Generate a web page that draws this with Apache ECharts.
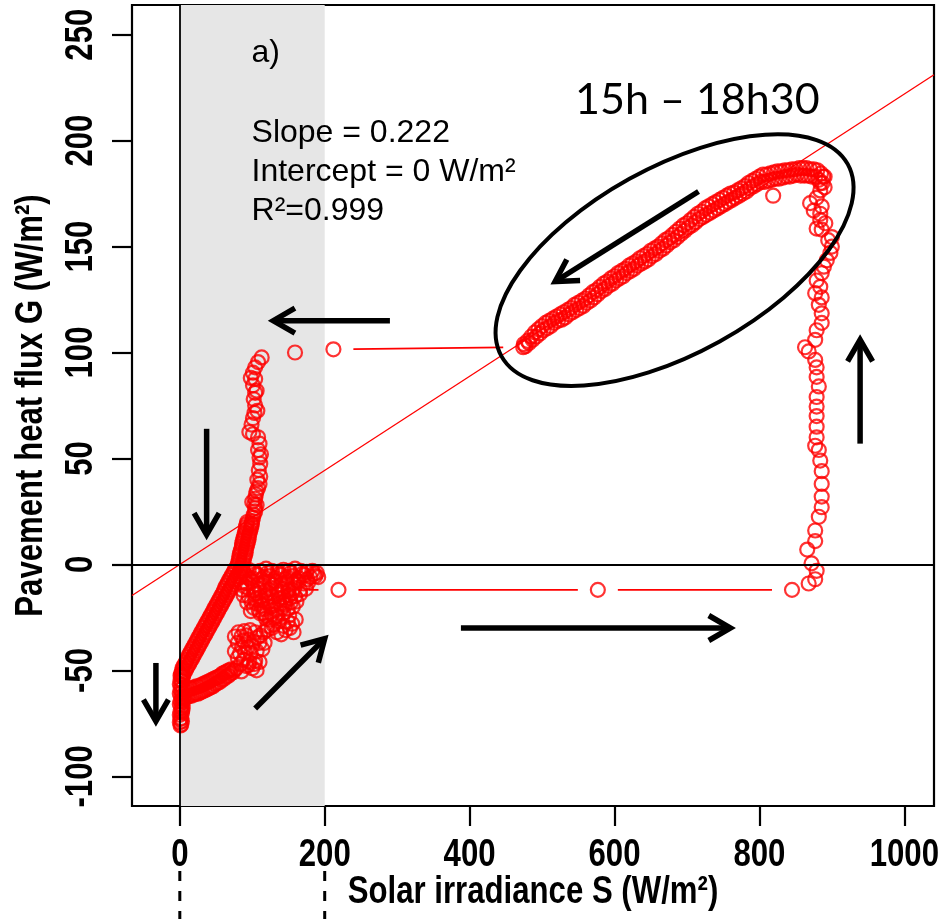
<!DOCTYPE html>
<html>
<head>
<meta charset="utf-8">
<script src="https://cdn.jsdelivr.net/npm/echarts@6/dist/echarts.min.js"></script>
<style>
  html, body { margin: 0; padding: 0; background: #ffffff; }
  #chart { width: 951px; height: 919px; }
</style>
</head>
<body>
<div id="chart"></div>
<script>
// ---- Axis ticks -------------------------------------------------------------
const xTicks = [0, 200, 400, 600, 800, 1000];
const yTicks = [-100, -50, 0, 50, 100, 150, 200, 250];
const xRange = [-66, 1041];
const yRange = [-114, 264];
const xTitle = 'Solar irradiance S (W/m\u00b2)';
const yTitle = 'Pavement heat flux G (W/m\u00b2)';

// ---- Linear fit G = slope * S + intercept ----------------------------------
const fitSlope = 0.222;
const fitIntercept = 0;
const fitText = ['Slope = 0.222', 'Intercept = 0 W/m\u00b2', 'R\u00b2=0.999'];
const panelLabel = 'a)';
const periodLabel = '15h \u2013 18h30';

// Shaded irradiance band (W/m²)
const shadeBand = [0, 200];

// ---- Measured pairs [S (W/m²), G (W/m²)] over the day, in time order --------
const nightDescent = [
  [2,-52],[4,-53],[1,-54.5],[3,-55],[0,-56.5],[2,-57],[4,-58.5],[1,-59],[3,-60.5],[0,-61],
  [2,-62.5],[4,-63],[1,-64.5],[3,-65],[0,-66],[2,-67.5],[4,-68],[1,-69.5],[3,-70],[0,-71],
  [2,-72.5],[1,-73],[3,-74],[0,-74.5],[2,-75.5],[1,-76]
];
const morningBranch = [
  [3,-69],[4,-66.5],[5,-64],[7,-62.5],[8,-59.5],[10,-62.5],[11,-59],[13,-62],[14,-58.5],[16,-62],
  [17,-58.5],[19,-61.5],[20,-58],[22,-61],[23,-57.5],[25,-61],[26,-57.5],[28,-60.5],[29,-57],[31,-60],
  [32,-56.5],[34,-59.5],[35,-56],[37,-59],[38,-55.5],[40,-58.5],[41,-55],[43,-58],[44,-54.5],[46,-57.5],
  [47,-54],[49,-56.5],[50,-53.5],[52,-56],[53,-53],[55,-55.5],[56,-52.5],[58,-54.5],[59,-51.5],[61,-54],
  [62,-51],[64,-53],[65,-50.5],[67,-52.5],[68,-50],[70,-51.5],[71,-49.5],[73,-51],[75,-50]
];
const morningClusterA = [
  [78,-49],[85,-50.5],[92,-48],[100,-49],[106,-50],[110,-46],[103,-47],[95,-47.5],[84,-47],[104,-45.5],
  [96,-46],[88,-45],[80,-44],[76,-41],[83,-42],[90,-41.5],[98,-42],[106,-41],[114,-40],[117,-37],
  [110,-37],[102,-36.5],[95,-35.5],[88,-36],[80,-37],[76,-34],[81,-32],[89,-31.5],[97,-31],[104,-32],
  [111,-33.5],[107,-34.5],[100,-38.5],[94,-39],[86,-39],[85,-34],[92,-33.5],[116,-32],[120,-31]
];
const morningClusterB = [
  [124,-26],[119,-25.5],[115,-23],[121,-29],[127,-30],[131,-25],[129,-28.5],[134,-32],[137,-27],
  [140,-33],[143,-29],[146,-31],[149,-27],[152,-30],[157,-32],[155,-28],[160,-26]
];
const morningClusterC = [
  [151,-24],[143,-23],[135,-24.5],[127,-23.5],[119,-24],[111,-23],
  [102,-20.5],[109,-21.5],[117,-21],[125,-20],[133,-21.5],[141,-20.5],[149,-21],[156,-20],
  [161,-17.5],[153,-18],[146,-17],[138,-18.5],[130,-17.5],[122,-18],[114,-17],[106,-18.5],[99,-17.5],[93,-18],
  [88,-14.5],[95,-15],[103,-14],[111,-15.5],[119,-14.5],[127,-15],[135,-14],[143,-15.5],[151,-14.5],[159,-15],[166,-14],
  [174,-11.5],[166,-12],[158,-11],[150,-12.5],[142,-11.5],[134,-12],[126,-11],[118,-12.5],[110,-11.5],[102,-12],[94,-11],[86,-12],
  [85,-8.5],[92,-9],[100,-8],[108,-9.5],[116,-8.5],[124,-9],[132,-8],[140,-9.5],[148,-8.5],[156,-9],[164,-8],[171,-9],[177,-8.5],
  [187,-5.5],[180,-6],[172,-5],[164,-6.5],[156,-5.5],[148,-6],[140,-5],[132,-6.5],[124,-5.5],[116,-6],[108,-5],[100,-6.5],[92,-5.5],[84,-6],
  [87,-3],[95,-2.5],[103,-3.5],[111,-3],[119,-2],[127,-3],[135,-3.5],[143,-2.5],[151,-3],[159,-2],[167,-3],[175,-3.5],[183,-3],[189,-4],[191,-6],
  [185,-4.5],[176,-7],[169,-4.5],[161,-7.5],[153,-4],[145,-7],[137,-4.5],[129,-7.5],[121,-4],[113,-7],[105,-4.5],[97,-7],[89,-4.5],
  [90,-10.5],[104,-16.5],[98,-22],[113,-19.5],[106,-13.5],[120,-16],[122,-13.5],[129,-19.5],[137,-16.5],[139,-13],[145,-19],[152,-16],[155,-13.5]
];
const sunriseJump = [[150,-12],[219,-12],[577,-12],[845,-12]];
const middayRise = [
  [868,-9],[877,-7],[879,-3],[872,0.5],[866,7],[877,11],[877,16],[882,22.5],[886,27],[886,32],
  [886,38],[886,44],[884,49],[882,54],[877,56],[879,60],[879,65],[879,70],[879,74.5],[879,79],
  [882,84],[879,88.5],[879,93],[877,96.5],[868,100.5],[863,102.5],[877,106],[879,110.5],[886,114],[886,118.5],
  [882,122.5],[886,126],[877,128],[884,131],[879,134],[886,137.5],[889,140.5],[893,143.5],[898,147],[900,150],
  [895,153],[900,154.5],[886,158],[879,158.5],[891,161],[884,162.5],[884,165.5],[875,167],[886,169],[870,170.5],
  [879,173],[884,176.5],[890,178],[884,180],[888,183]
];
const afternoonFall = [
  [890,183],[887,180],[885,184.5],[882,181.5],[880,186],[877,183],[875,186.5],[872,183],[870,186.5],[867,183.5],
  [865,187],[862,183.5],[860,187],[857,183.5],[855,187],[852,184],[850,186.5],[847,183.5],[845,186.5],[842,183],
  [840,186],[837,183],[835,186],[832,182.5],[830,185.5],[827,182],[825,185.5],[822,182],[820,185],[817,181.5],
  [819,174],[815,184.5],[812,181],[810,184],[807,180.5],[805,184],[802,180.5],[800,183],[797,179.5],[795,182],
  [792,178.5],[790,181],[787,177.5],[785,180],[782,176],[780,178.5],[777,175],[775,177.5],[772,174],[770,176.5],
  [767,173],[765,175.5],[762,172],[760,175],[757,171],[755,174],[752,170],[750,173],[747,169],[745,172],
  [742,168],[740,171],[737,167],[735,170],[732,166],[730,169],[727,165],[725,168],[722,164],[720,166.5],
  [717,163],[715,165.5],[712,161.5],[710,164],[707,160],[705,162.5],[702,159],[700,161],[697,157.5],[695,160],
  [692,156],[690,158.5],[687,154.5],[685,157],[682,153],[680,155.5],[677,152],[675,154],[672,150.5],[670,153],
  [667,149],[665,151.5],[662,148],[660,150],[657,146.5],[655,149],[652,145.5],[650,148],[647,144],[645,146.5],
  [642,143],[640,145.5],[637,142],[635,144.5],[632,141],[630,143],[627,139.5],[625,142],[622,138.5],[620,141],
  [617,137.5],[615,139.5],[612,136],[610,138.5],[607,135],[605,137.5],[602,134],[600,136],[597,132.5],[595,135],
  [592,131.5],[590,133.5],[587,130],[585,132.5],[582,129],[580,131],[577,127.5],[575,129.5],[572,126],[570,128.5],
  [567,124.5],[565,127],[562,123.5],[560,125.5],[557,122],[555,124.5],[552,121],[550,123.5],[547,120],[545,122.5],
  [542,119],[540,121],[537,118],[535,120],[532,116.5],[530,119],[527,115.5],[525,118],[522,115],[520,117],
  [517,114],[515,116],[512,112.5],[510,115],[507,111.5],[505,114],[502,110.5],[500,112.5],[497,109],[495,111],
  [492,107.5],[490,109.5],[487,106],[485,107.5],[482,104.5],[480,105.5],[477,103],[475,104],[474,102.5]
];
const eveningJump = [[212,101.5],[159,100]];
const eveningColumn = [
  [113,97.7],[108,95.5],[104,93],[101,90.5],[98,88],[104,87.5],[101,84.5],[106,82],[104,81],[102,78],
  [104,75],[107,72.5],[103,71.5],[101,69],[99,66],[96,62.5],[101,61.5],[108,60],[110,57],[108,54],
  [112,52],[110,50.5],[111,47.5],[109,44.5],[111,41.5],[107,40],[110,38],[108,36],[106,34.5],[105,33],
  [104,31],[100,29.5],[103,28.5],[106,28],[104,26.5],[104,25],[102,23.5],[101,22],[100,20.5],[99,19]
];
const eveningDescent = [
  [93,20],[99,19.4],[92,18.8],[99,18.1],[91,17.5],[98,16.9],[91,16.3],[97,15.6],[90,15],[96,14.4],
  [89,13.8],[95,13.1],[88,12.5],[95,11.9],[87,11.3],[94,10.6],[86,10],[93,9.4],[86,8.8],[92,8.1],
  [85,7.5],[91,6.9],[84,6.3],[91,5.6],[83,5],[90,4.4],[82,3.8],[89,3.1],[82,2.5],[88,1.9],
  [81,1.3],[87,0.6],[80,0],[86,-0.6],[78,-1.3],[84,-1.9],[76,-2.5],[83,-3.1],[74,-3.8],[81,-4.4],
  [72,-5],[79,-5.6],[70,-6.3],[77,-6.9],[68,-7.5],[75,-8.1],[66,-8.8],[73,-9.4],[64,-10],[71,-10.6],
  [62,-11.3],[69,-11.9],[61,-12.5],[67,-13.1],[59,-13.8],[65,-14.4],[57,-15],[63,-15.6],[55,-16.3],[61,-16.9],
  [53,-17.5],[59,-18.1],[51,-18.8],[57,-19.4],[49,-20],[55,-20.6],[47,-21.3],[53,-21.9],[45,-22.5],[51,-23.1],
  [43,-23.8],[49,-24.4],[41,-25],[47,-25.6],[39,-26.3],[45,-26.9],[37,-27.5],[43,-28.1],[35,-28.8],[41,-29.4],
  [33,-30],[39,-30.6],[31,-31.3],[37,-31.9],[29,-32.5],[35,-33.1],[27,-33.8],[33,-34.4],[25,-35],[31,-35.6],
  [23,-36.3],[29,-36.9],[21,-37.5],[27,-38.1],[19,-38.8],[25,-39.4],[17,-40],[23,-40.6],[15,-41.3],[21,-41.9],
  [13,-42.5],[19,-43.1],[11,-43.8],[17,-44.4],[10,-45],[15,-45.6],[8,-46.3],[13,-46.9],[6,-47.5],[11,-48.1],
  [4,-48.8],[9,-49.4],[3,-50],[7,-50.6],[2,-51.3],[5,-51.9],[1,-52.5],[4,-53]
];

// ---- Annotations (positions in data units) ---------------------------------
const arrowPaths = [
  [[290, 115], [129, 115]],
  [[37, 64], [37, 14]],
  [[-33, -46.5], [-33, -74]],
  [[104, -68], [200, -35]],
  [[388, -30], [760, -30]],
  [[939, 57], [939, 106]],
  [[716, 176], [518, 133.5]]
];
const periodEllipseCenter = [682.9, 143.6];
const textAnchors = {
  panel: [99, 241.3],
  fit: [[99, 203.4], [99, 185.3], [99, 166.5]],
  period: [545.6, 219.1]
};

// ---- Build series -----------------------------------------------------------
const dayPath = [].concat(nightDescent, morningBranch, morningClusterA, morningClusterB,
  morningClusterC, sunriseJump, middayRise, afternoonFall, eveningJump, eveningColumn, eveningDescent);

// consecutive pairs, drawn as lines with gaps around each point (plot type "b")
const links = [];
for (let i = 1; i < dayPath.length; i++) {
  links.push([dayPath[i - 1][0], dayPath[i - 1][1], dayPath[i][0], dayPath[i][1]]);
}
const fitLine = [
  [xRange[0], fitSlope * xRange[0] + fitIntercept],
  [xRange[1], fitSlope * xRange[1] + fitIntercept]
];

const RED = '#ff0000';
const GAP = 20;

const chart = echarts.init(document.getElementById('chart'), null, { renderer: 'canvas' });

chart.setOption({
  animation: false,
  backgroundColor: '#ffffff',
  grid: {
    left: 132, right: 17, top: 5, bottom: 113,
    show: true, borderColor: '#000', borderWidth: 2.2,
    containLabel: false, outerBoundsMode: 'none'
  },
  xAxis: {
    type: 'value', min: xRange[0], max: xRange[1],
    axisLine: { show: false, onZero: false },
    splitLine: { show: false },
    axisTick: { show: true, inside: false, length: 20, customValues: xTicks,
      lineStyle: { color: '#000', width: 2.2 } },
    axisLabel: { show: false, customValues: xTicks }
  },
  yAxis: {
    type: 'value', min: yRange[0], max: yRange[1],
    axisLine: { show: false, onZero: false },
    splitLine: { show: false },
    axisTick: { show: true, inside: false, length: 20, customValues: yTicks,
      lineStyle: { color: '#000', width: 2.2 } },
    axisLabel: { show: false, customValues: yTicks }
  },
  series: [
    {
      name: 'shade', type: 'line', data: [], z: 1, silent: true,
      markArea: {
        silent: true,
        itemStyle: { color: '#e6e6e6' },
        data: [[{ xAxis: shadeBand[0] }, { xAxis: shadeBand[1] }]]
      },
      markLine: {
        silent: true, symbol: 'none', animation: false,
        label: { show: false },
        lineStyle: { color: '#000', width: 1.8, type: 'solid' },
        data: [{ xAxis: 0 }, { yAxis: 0 }]
      }
    },
    {
      name: 'fit', type: 'line', data: fitLine, z: 2, silent: true,
      showSymbol: false, symbol: 'none',
      lineStyle: { color: RED, width: 1.3 }
    },
    {
      name: 'links', type: 'custom', data: links, z: 3, silent: true,
      encode: { x: [0, 2], y: [1, 3] },
      renderItem: function (params, api) {
        const a = api.coord([api.value(0), api.value(1)]);
        const b = api.coord([api.value(2), api.value(3)]);
        const dx = b[0] - a[0], dy = b[1] - a[1];
        const d = Math.sqrt(dx * dx + dy * dy);
        if (d <= 2 * GAP) return { type: 'group', children: [] };
        const ux = dx / d, uy = dy / d;
        return {
          type: 'line',
          shape: { x1: a[0] + ux * GAP, y1: a[1] + uy * GAP, x2: b[0] - ux * GAP, y2: b[1] - uy * GAP },
          style: { stroke: RED, lineWidth: 1.8 }
        };
      }
    },
    {
      name: 'G vs S', type: 'scatter', data: dayPath, z: 4, silent: true,
      symbol: 'circle', symbolSize: 14, large: false,
      itemStyle: { color: 'rgba(0,0,0,0)', borderColor: RED, borderWidth: 2.2 }
    }
  ]
});

// ---- Annotation layer: axis texts, arrows, ellipse, notes, dashed marks ------
function px(p) { return chart.convertToPixel({ gridIndex: 0 }, p); }

const graphics = [];
const NARROW = 0.82;
const boldFont = "'Liberation Sans', Arial, sans-serif";
function axisTextEl(text, x, y, rotation) {
  return {
    type: 'text', z: 50, silent: true, x: x, y: y,
    rotation: rotation || 0, scaleX: NARROW,
    style: { text: text, fontSize: 38, fontWeight: 'bold', fontFamily: boldFont,
      fill: '#000', align: 'center', verticalAlign: 'middle' }
  };
}
xTicks.forEach(function (v) {
  graphics.push(axisTextEl(String(v), px([v, 0])[0], 856, 0));
});
yTicks.forEach(function (v) {
  graphics.push(axisTextEl(String(v), 81.5, px([0, v])[1], Math.PI / 2));
});
graphics.push(axisTextEl(xTitle, px([(xRange[0] + xRange[1]) / 2, 0])[0], 893, 0));
graphics.push(axisTextEl(yTitle, 31.5, px([0, (yRange[0] + yRange[1]) / 2])[1], Math.PI / 2));

const ARROW_W = 5.5, HEAD_L = 25, HEAD_A = 30 * Math.PI / 180;
arrowPaths.forEach(function (ar) {
  const t = px(ar[0]), h = px(ar[1]);
  const ang = Math.atan2(h[1] - t[1], h[0] - t[0]);
  const p1 = [h[0] - HEAD_L * Math.cos(ang - HEAD_A), h[1] - HEAD_L * Math.sin(ang - HEAD_A)];
  const p2 = [h[0] - HEAD_L * Math.cos(ang + HEAD_A), h[1] - HEAD_L * Math.sin(ang + HEAD_A)];
  const hEnd = [h[0] - 2 * Math.cos(ang), h[1] - 2 * Math.sin(ang)];
  graphics.push({ type: 'polyline', z: 100, silent: true,
    shape: { points: [t, hEnd] }, style: { stroke: '#000', lineWidth: ARROW_W, fill: null } });
  graphics.push({ type: 'polyline', z: 100, silent: true,
    shape: { points: [p1, h, p2] }, style: { stroke: '#000', lineWidth: ARROW_W, fill: null, lineJoin: 'miter' } });
});

const ec = px(periodEllipseCenter);
graphics.push({
  type: 'ellipse', z: 100, silent: true,
  x: ec[0], y: ec[1], rotation: 29 * Math.PI / 180,
  shape: { cx: 0, cy: 0, rx: 198, ry: 93 },
  style: { stroke: '#000', lineWidth: 4, fill: null }
});

const regFont = "'Liberation Sans', Arial, sans-serif";
const pl = px(textAnchors.panel);
graphics.push({ type: 'text', z: 100, silent: true, x: pl[0], y: pl[1],
  style: { text: panelLabel, fontSize: 32, fontFamily: regFont, fill: '#000', align: 'left', verticalAlign: 'middle' } });
fitText.forEach(function (t, i) {
  const p = px(textAnchors.fit[i]);
  graphics.push({ type: 'text', z: 100, silent: true, x: p[0], y: p[1],
    style: { text: t, fontSize: 32, fontFamily: regFont, fill: '#000', align: 'left', verticalAlign: 'middle' } });
});
const pp = px(textAnchors.period);
graphics.push({ type: 'text', z: 100, silent: true, x: pp[0], y: pp[1],
  style: { text: periodLabel, fontSize: 43, fontFamily: "Lato, 'Open Sans', sans-serif", fill: '#000', align: 'left', verticalAlign: 'middle' } });

// dashed guides under the axis at the shaded band limits
shadeBand.forEach(function (s) {
  const x = px([s, 0])[0];
  graphics.push({ type: 'line', z: 100, silent: true,
    shape: { x1: x, y1: 871, x2: x, y2: 919 },
    style: { stroke: '#000', lineWidth: 3, lineDash: [10, 10] } });
});

chart.setOption({ graphic: graphics });
</script>
</body>
</html>
